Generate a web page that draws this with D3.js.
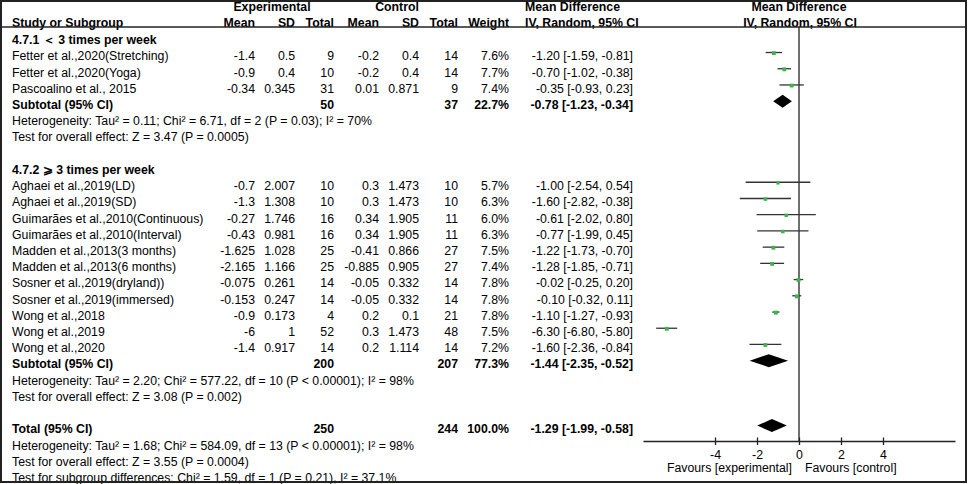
<!DOCTYPE html>
<html>
<head>
<meta charset="utf-8">
<script src="https://cdn.jsdelivr.net/npm/d3@7"></script>
<style>
  body { margin: 0; background: #fff; }
  text { font-family: "Liberation Sans", Arial, sans-serif; font-size: 12.3px; fill: #000; }
  .b { font-weight: bold; }
</style>
</head>
<body>
<div id="chart"></div>
<script>
// study data
const studyNames = [
  "Fetter et al.,2020(Stretching)", "Fetter et al.,2020(Yoga)", "Pascoalino et al., 2015",
  "Aghaei et al.,2019(LD)", "Aghaei et al.,2019(SD)", "Guimarães et al.,2010(Continuous)",
  "Guimarães et al.,2010(Interval)", "Madden et al.,2013(3 months)", "Madden et al.,2013(6 months)",
  "Sosner et al.,2019(dryland))", "Sosner et al.,2019(immersed)", "Wong et al.,2018",
  "Wong et al.,2019", "Wong et al.,2020"
];
const studyGroup = [0, 0, 0, 1, 1, 1, 1, 1, 1, 1, 1, 1, 1, 1];
const expMean = [-1.4, -0.9, -0.34, -0.7, -1.3, -0.27, -0.43, -1.625, -2.165, -0.075, -0.153, -0.9, -6, -1.4];
const expSD = [0.5, 0.4, 0.345, 2.007, 1.308, 1.746, 0.981, 1.028, 1.166, 0.261, 0.247, 0.173, 1, 0.917];
const expN = [9, 10, 31, 10, 10, 16, 16, 25, 25, 14, 14, 4, 52, 14];
const ctrlMean = [-0.2, -0.2, 0.01, 0.3, 0.3, 0.34, 0.34, -0.41, -0.885, -0.05, -0.05, 0.2, 0.3, 0.2];
const ctrlSD = [0.4, 0.4, 0.871, 1.473, 1.473, 1.905, 1.905, 0.866, 0.905, 0.332, 0.332, 0.1, 1.473, 1.114];
const ctrlN = [14, 14, 9, 10, 10, 11, 11, 27, 27, 14, 14, 21, 48, 14];
const weight = [7.6, 7.7, 7.4, 5.7, 6.3, 6.0, 6.3, 7.5, 7.4, 7.8, 7.8, 7.8, 7.5, 7.2];
const md = [-1.20, -0.70, -0.35, -1.00, -1.60, -0.61, -0.77, -1.22, -1.28, -0.02, -0.10, -1.10, -6.30, -1.60];
const ciLo = [-1.59, -1.02, -0.93, -2.54, -2.82, -2.02, -1.99, -1.73, -1.85, -0.25, -0.32, -1.27, -6.80, -2.36];
const ciHi = [-0.81, -0.38, 0.23, 0.54, -0.38, 0.80, 0.45, -0.70, -0.71, 0.20, 0.11, -0.93, -5.80, -0.84];

// subgroups
const groupTitles = ["4.7.1 ＜ 3 times per week", "4.7.2 ⩾ 3 times per week"];
const subExpN = [50, 200];
const subCtrlN = [37, 207];
const subWeight = [22.7, 77.3];
const subMd = [-0.78, -1.44];
const subLo = [-1.23, -2.35];
const subHi = [-0.34, -0.52];
const subHet = [
  "Heterogeneity: Tau² = 0.11; Chi² = 6.71, df = 2 (P = 0.03); I² = 70%",
  "Heterogeneity: Tau² = 2.20; Chi² = 577.22, df = 10 (P < 0.00001); I² = 98%"
];
const subTest = [
  "Test for overall effect: Z = 3.47 (P = 0.0005)",
  "Test for overall effect: Z = 3.08 (P = 0.002)"
];

// overall
const totalExpN = 250, totalCtrlN = 244, totalWeight = 100.0;
const totalMd = -1.29, totalLo = -1.99, totalHi = -0.58;
const totalNotes = [
  "Heterogeneity: Tau² = 1.68; Chi² = 584.09, df = 13 (P < 0.00001); I² = 98%",
  "Test for overall effect: Z = 3.55 (P = 0.0004)",
  "Test for subgroup differences: Chi² = 1.59, df = 1 (P = 0.21), I² = 37.1%"
];
const tickValues = [-4, -2, 0, 2, 4];

const W = 968, H = 484;
const svg = d3.select("#chart").append("svg")
  .attr("width", W)
  .attr("height", H);

// column right edges
const col = { name: 12, eMean: 255, eSD: 295, eN: 334, cMean: 379, cSD: 419, cN: 458, wt: 509, ci: 633, ciHead: 525 };

// build the row list
let rows = [];
let r = 0;
groupTitles.forEach((title, g) => {
  rows.push({ type: "title", r: r++, text: title });
  studyNames.forEach((name, i) => {
    if (studyGroup[i] === g) rows.push({ type: "study", r: r++, i: i });
  });
  rows.push({ type: "sub", r: r++, g: g });
  rows.push({ type: "note", r: r++, text: subHet[g] });
  rows.push({ type: "note", r: r++, text: subTest[g] });
  r++;
});
rows.push({ type: "total", r: r++ });
totalNotes.forEach((t) => rows.push({ type: "note", r: r++, text: t }));

const yScale = d3.scaleLinear().domain([0, 27]).range([39.8, 477.7]);
const xScale = d3.scaleLinear().domain([-7.43, 7.43]).range([643, 955]);
const axisY = 441;

const fmt2 = (v) => v.toFixed(2);
const ciText = (m, lo, hi) => fmt2(m) + " [" + fmt2(lo) + ", " + fmt2(hi) + "]";

function txt(x, y, s, anchor, bold) {
  svg.append("text")
    .attr("x", x)
    .attr("y", y)
    .attr("text-anchor", anchor || "start")
    .attr("class", bold ? "b" : null)
    .text(s);
}

// headers
txt(272, 11, "Experimental", "middle", true);
txt(397, 11, "Control", "middle", true);
txt(col.ciHead, 11, "Mean Difference", "start", true);
txt(799, 11, "Mean Difference", "middle", true);
txt(col.name, 27, "Study or Subgroup", "start", true);
txt(col.eMean, 27, "Mean", "end", true);
txt(col.eSD, 27, "SD", "end", true);
txt(col.eN, 27, "Total", "end", true);
txt(col.cMean, 27, "Mean", "end", true);
txt(col.cSD, 27, "SD", "end", true);
txt(col.cN, 27, "Total", "end", true);
txt(col.wt, 27, "Weight", "end", true);
txt(col.ciHead, 27, "IV, Random, 95% CI", "start", true);
txt(800, 27, "IV, Random, 95% CI", "middle", true);

svg.append("line")
  .attr("x1", 1).attr("x2", 966)
  .attr("y1", 27).attr("y2", 27)
  .attr("stroke", "#222").attr("stroke-width", 1.5);

// zero line
svg.append("line")
  .attr("x1", xScale(0)).attr("x2", xScale(0))
  .attr("y1", 27).attr("y2", axisY)
  .attr("stroke", "#222").attr("stroke-width", 1.3);

// table text and marks
rows.forEach((d) => {
  const y = yScale(d.r);
  const by = y + 4.3;
  const my = y - 3.5;
  if (d.type === "title") {
    txt(col.name, by, d.text, "start", true);
  } else if (d.type === "note") {
    txt(col.name, by, d.text, "start", false);
  } else if (d.type === "study") {
    const i = d.i;
    txt(col.name, by, studyNames[i]);
    txt(col.eMean, by, String(expMean[i]), "end");
    txt(col.eSD, by, String(expSD[i]), "end");
    txt(col.eN, by, String(expN[i]), "end");
    txt(col.cMean, by, String(ctrlMean[i]), "end");
    txt(col.cSD, by, String(ctrlSD[i]), "end");
    txt(col.cN, by, String(ctrlN[i]), "end");
    txt(col.wt, by, weight[i].toFixed(1) + "%", "end");
    txt(col.ci, by, ciText(md[i], ciLo[i], ciHi[i]), "end");
    svg.append("line")
      .attr("x1", xScale(ciLo[i])).attr("x2", xScale(ciHi[i]))
      .attr("y1", my).attr("y2", my)
      .attr("stroke", "#333").attr("stroke-width", 1.3);
    const s = Math.sqrt(weight[i]) * 1.4;
    svg.append("rect")
      .attr("x", xScale(md[i]) - s / 2)
      .attr("y", my - s / 2 + 0.6)
      .attr("width", s).attr("height", s)
      .attr("fill", "#3cb44b");
  } else {
    const isSub = d.type === "sub";
    const g = d.g;
    const label = isSub ? "Subtotal (95% CI)" : "Total (95% CI)";
    const m = isSub ? subMd[g] : totalMd;
    const lo = isSub ? subLo[g] : totalLo;
    const hi = isSub ? subHi[g] : totalHi;
    txt(col.name, by, label, "start", true);
    txt(col.eN, by, String(isSub ? subExpN[g] : totalExpN), "end", true);
    txt(col.cN, by, String(isSub ? subCtrlN[g] : totalCtrlN), "end", true);
    txt(col.wt, by, (isSub ? subWeight[g] : totalWeight).toFixed(1) + "%", "end", true);
    txt(col.ci, by, ciText(m, lo, hi), "end", true);
    const h = 6.5;
    const pts = [[xScale(lo), my], [xScale(m), my - h], [xScale(hi), my], [xScale(m), my + h]];
    svg.append("path")
      .attr("d", "M" + pts.map((p) => p.join(",")).join("L") + "Z")
      .attr("fill", "#000");
  }
});

// x axis
const axis = svg.append("g")
  .attr("transform", "translate(0," + axisY + ")")
  .call(d3.axisBottom(xScale)
    .tickValues(tickValues)
    .tickFormat((v) => String(v))
    .tickSizeOuter(0)
    .tickSizeInner(4)
    .tickPadding(5));
axis.select(".domain").attr("stroke", "#222").attr("stroke-width", 1.3);
axis.selectAll(".tick line").attr("y1", -3.5).attr("y2", 4).attr("stroke", "#222").attr("stroke-width", 1.3);
axis.selectAll(".tick text")
  .attr("font-family", "Liberation Sans, Arial, sans-serif")
  .attr("font-size", 12.3)
  .attr("fill", "#000");

txt(792, 472, "Favours [experimental]", "end");
txt(805, 472, "Favours [control]", "start");

// outer frame
svg.append("rect")
  .attr("x", 1).attr("y", 1)
  .attr("width", 965).attr("height", 481)
  .attr("fill", "none")
  .attr("stroke", "#222")
  .attr("stroke-width", 2);
</script>
</body>
</html>
